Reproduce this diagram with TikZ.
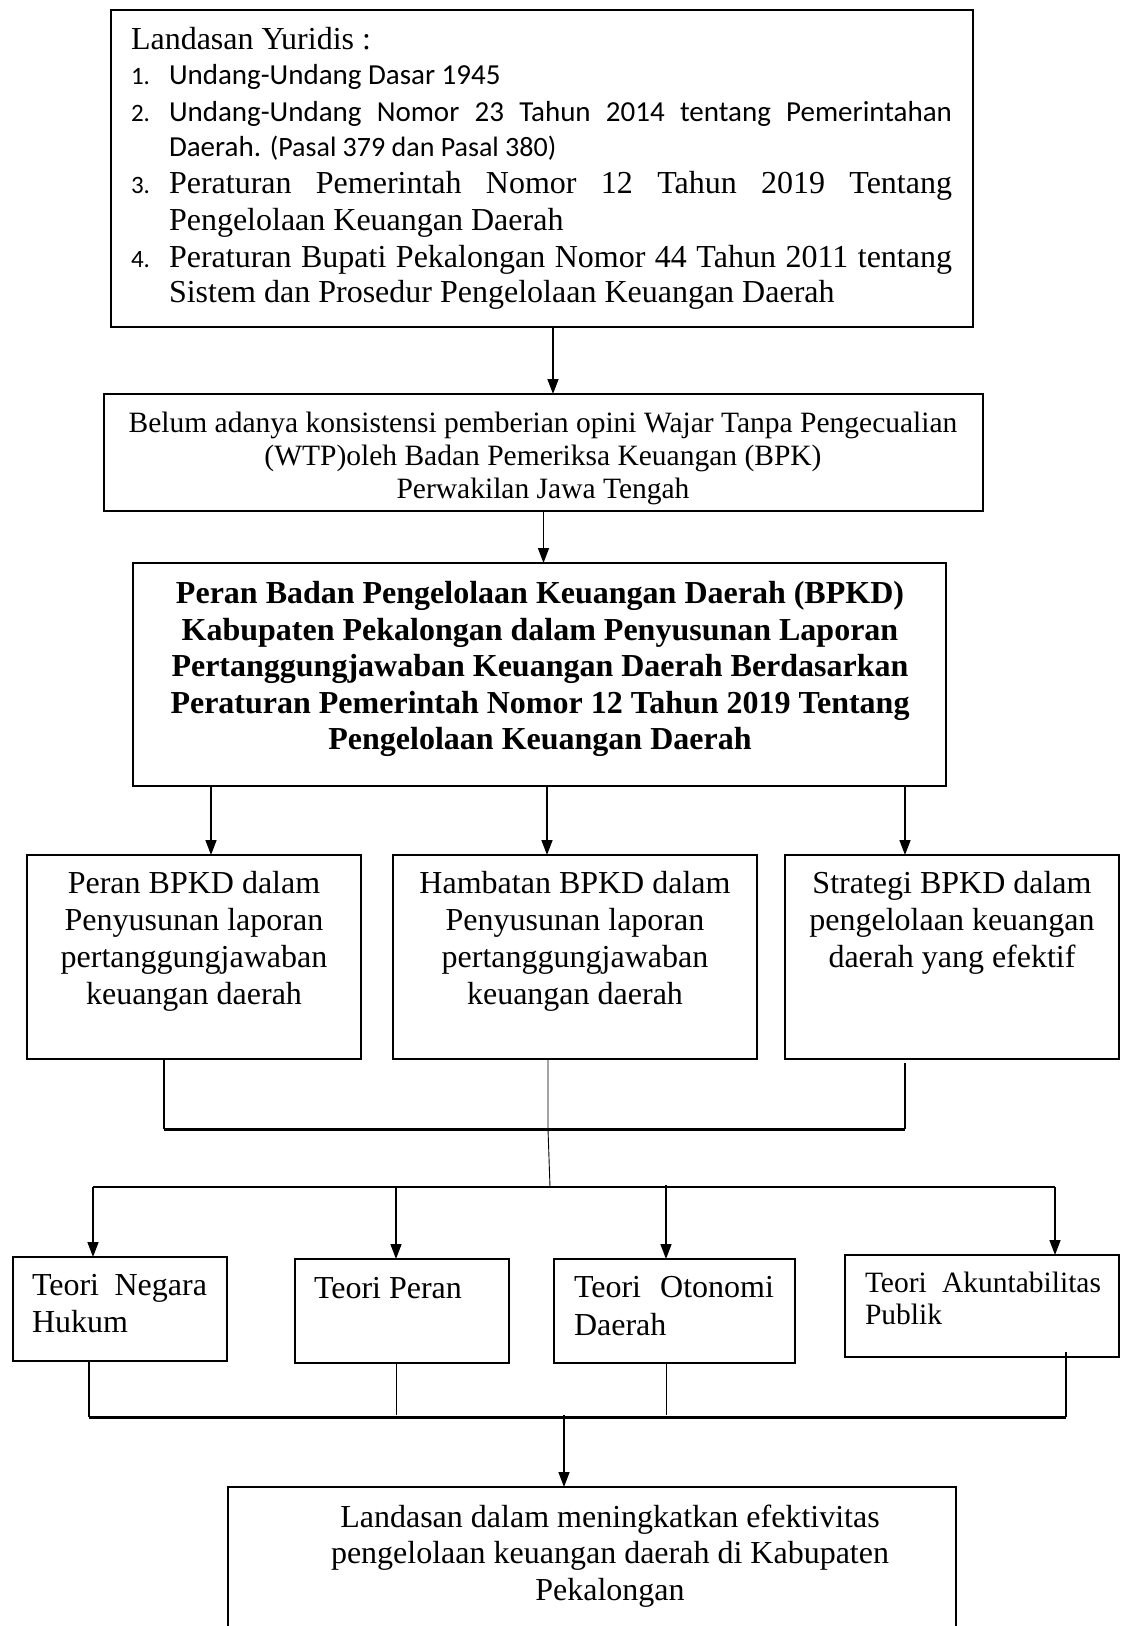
\documentclass[tikz,border=0pt]{standalone}
\usepackage{fontspec}
\setmainfont{Liberation Serif}
\newfontfamily\calibri{Carlito}
\usetikzlibrary{arrows.meta}
\begin{document}
\begin{tikzpicture}[x=1pt,y=-1pt,
  box/.style={draw, line width=1.5pt, inner sep=0pt, outer sep=0pt, anchor=north west, rectangle},
  txt/.style={inner sep=0pt, outer sep=0pt, font=\fontsize{32}{36}\selectfont},
  txts/.style={inner sep=0pt, outer sep=0pt, font=\fontsize{29.5}{34}\selectfont},
  cal/.style={inner sep=0pt, outer sep=0pt, font=\calibri\fontsize{29}{34}\selectfont},
  num/.style={inner sep=0pt, outer sep=0pt, font=\calibri\fontsize{25}{30}\selectfont},
  bld/.style={inner sep=0pt, outer sep=0pt, font=\fontsize{32}{36}\selectfont\bfseries},
  arr/.style={line width=1.5pt, -{Triangle[length=15pt,width=11pt]}},
  conn/.style={line width=1.3pt},
  thin/.style={line width=0.9pt},
  bar/.style={line width=3pt}
]
\useasboundingbox (0,0) rectangle (1126,1626);
\clip (0,0) rectangle (1126,1626);
\fill[white] (0,0) rectangle (1126,1626);

% ---------- Box 1 ----------
\node[box, minimum width=862pt, minimum height=317pt] (b1) at (111,10) {};
\node[txt, anchor=base west] (b1t0) at (131,49) {Landasan Yuridis :};
\node[num, anchor=base west] (b1n1) at (131,84) {1.};
\node[cal, anchor=base west] (b1t1) at (169,84) {Undang-Undang Dasar 1945};
\node[num, anchor=base west] (b1n2) at (131,121) {2.};
\node[cal, anchor=base west] (b1t2) at (169,121) {\makebox[783pt][s]{Undang-Undang Nomor 23 Tahun 2014 tentang Pemerintahan}};
\node[cal, anchor=base west] (b1t3) at (169,156) {Daerah. {\fontsize{28}{30}\selectfont(Pasal 379 dan Pasal 380)}};
\node[num, anchor=base west] (b1n3) at (131,193) {3.};
\node[txt, anchor=base west] (b1t4) at (169,193) {\makebox[783pt][s]{Peraturan Pemerintah Nomor 12 Tahun 2019 Tentang}};
\node[txt, anchor=base west] (b1t5) at (169,230) {Pengelolaan Keuangan Daerah};
\node[num, anchor=base west] (b1n4) at (131,267) {4.};
\node[txt, anchor=base west] (b1t6) at (169,267) {\makebox[783pt][s]{Peraturan Bupati Pekalongan Nomor 44 Tahun 2011 tentang}};
\node[txt, anchor=base west] (b1t7) at (169,302) {Sistem dan Prosedur Pengelolaan Keuangan Daerah};

% ---------- Box 2 ----------
\node[box, minimum width=879pt, minimum height=117pt] (b2) at (104,394) {};
\node[txts, anchor=base] (b2t1) at (543,432) {Belum adanya konsistensi pemberian opini Wajar Tanpa Pengecualian};
\node[txts, anchor=base] (b2t2) at (543,465) {(WTP)oleh Badan Pemeriksa Keuangan (BPK)};
\node[txts, anchor=base] (b2t3) at (543,498) {Perwakilan Jawa Tengah};

% ---------- Box 3 ----------
\node[box, minimum width=813pt, minimum height=223pt] (b3) at (133,563) {};
\node[bld, anchor=base] (b3t1) at (540,603) {Peran Badan Pengelolaan Keuangan Daerah (BPKD)};
\node[bld, anchor=base] (b3t2) at (540,640) {Kabupaten Pekalongan dalam Penyusunan Laporan};
\node[bld, anchor=base] (b3t3) at (540,676) {Pertanggungjawaban Keuangan Daerah Berdasarkan};
\node[bld, anchor=base] (b3t4) at (540,713) {Peraturan Pemerintah Nomor 12 Tahun 2019 Tentang};
\node[bld, anchor=base] (b3t5) at (540,749) {Pengelolaan Keuangan Daerah};

% ---------- Row of three ----------
\node[box, minimum width=334pt, minimum height=204pt] (b4a) at (27,855) {};
\node[box, minimum width=364pt, minimum height=204pt] (b4b) at (393,855) {};
\node[box, minimum width=334pt, minimum height=204pt] (b4c) at (785,855) {};
\node[txt, anchor=base] (b4a1) at (194,893) {Peran BPKD dalam};
\node[txt, anchor=base] (b4a2) at (194,930) {Penyusunan laporan};
\node[txt, anchor=base] (b4a3) at (194,967) {pertanggungjawaban};
\node[txt, anchor=base] (b4a4) at (194,1004) {keuangan daerah};
\node[txt, anchor=base] (b4b1) at (575,893) {Hambatan BPKD dalam};
\node[txt, anchor=base] (b4b2) at (575,930) {Penyusunan laporan};
\node[txt, anchor=base] (b4b3) at (575,967) {pertanggungjawaban};
\node[txt, anchor=base] (b4b4) at (575,1004) {keuangan daerah};
\node[txt, anchor=base] (b4c1) at (952,893) {Strategi BPKD dalam};
\node[txt, anchor=base] (b4c2) at (952,930) {pengelolaan keuangan};
\node[txt, anchor=base] (b4c3) at (952,967) {daerah yang efektif};

% ---------- Teori boxes ----------
\node[box, minimum width=214pt, minimum height=104pt] (tn) at (13,1257) {};
\node[box, minimum width=214pt, minimum height=104pt] (tp) at (295,1259) {};
\node[box, minimum width=241pt, minimum height=104pt] (to) at (554,1259) {};
\node[box, minimum width=274pt, minimum height=102pt] (ta) at (845,1255) {};
\node[txt, anchor=base west] (tn1) at (32,1295) {\makebox[175pt][s]{Teori Negara}};
\node[txt, anchor=base west] (tn2) at (32,1332) {Hukum};
\node[txt, anchor=base west] (tp1) at (314,1298) {Teori Peran};
\node[txt, anchor=base west] (to1) at (574,1297) {\makebox[200pt][s]{Teori Otonomi}};
\node[txt, anchor=base west] (to2) at (574,1335) {Daerah};
\node[txts, anchor=base west] (ta1) at (865,1292) {\makebox[236pt][s]{Teori Akuntabilitas}};
\node[txts, anchor=base west] (ta2) at (865,1324) {Publik};

% ---------- Final box ----------
\node[box, minimum width=728pt, minimum height=220pt] (fin) at (228,1487) {};
\node[txt, anchor=base] (fin1) at (610,1527) {Landasan dalam meningkatkan efektivitas};
\node[txt, anchor=base] (fin2) at (610,1563) {pengelolaan keuangan daerah di Kabupaten};
\node[txt, anchor=base] (fin3) at (610,1600) {Pekalongan};

% ---------- junction coordinates ----------
\coordinate (j1) at (548,1129);
\coordinate (j2) at (550,1187);
\coordinate (j3) at (564,1417);

% ---------- connectors ----------
\draw[arr] ([xshift=11pt]b1.south) -- ([xshift=11pt]b1.south |- b2.north);
\draw[arr] (b2.south) -- (b2.south |- b3.north);
\draw[arr] ([xshift=17pt]b4a.north |- b3.south) -- ([xshift=17pt]b4a.north);
\draw[arr] ([xshift=-28pt]b4b.north |- b3.south) -- ([xshift=-28pt]b4b.north);
\draw[arr] ([xshift=-47pt]b4c.north |- b3.south) -- ([xshift=-47pt]b4c.north);

\draw[conn] ([xshift=-30pt]b4a.south) -- ([xshift=-30pt]b4a.south |- j1);
\draw[conn] ([xshift=-47pt,yshift=-4pt]b4c.south) -- ([xshift=-47pt]b4c.south |- j1);
\draw[bar] ([xshift=-30pt]b4a.south |- j1) -- ([xshift=-47pt]b4c.south |- j1);
\draw[thin] ([xshift=-27pt]b4b.south) -- (j1) -- (j2);

\draw[conn] (93,1187) -- (1055,1187);
\draw[arr] ([xshift=-27pt]tn.north |- j2) -- ([xshift=-27pt]tn.north);
\draw[arr] ([xshift=-6pt]tp.north |- j2) -- ([xshift=-6pt]tp.north);
\draw[arr] ([xshift=-8.5pt,yshift=2pt]to.north |- j2) -- ([xshift=-8.5pt]to.north);
\draw[arr] ([xshift=73pt]ta.north |- j2) -- ([xshift=73pt]ta.north);

\draw[conn] ([xshift=-31pt]tn.south) -- ([xshift=-31pt]tn.south |- j3);
\draw[thin] ([xshift=-6pt]tp.south) -- ([xshift=-6pt,yshift=2pt]tp.south |- j3);
\draw[thin] ([xshift=-8.5pt]to.south) -- ([xshift=-8.5pt,yshift=2pt]to.south |- j3);
\draw[conn] ([xshift=84pt,yshift=5pt]ta.south) -- ([xshift=84pt]ta.south |- j3);
\draw[bar] ([xshift=-31pt]tn.south |- j3) -- ([xshift=84pt]ta.south |- j3);
\draw[arr] ([yshift=2pt]j3) -- (j3 |- fin.north);
\end{tikzpicture}
\end{document}
